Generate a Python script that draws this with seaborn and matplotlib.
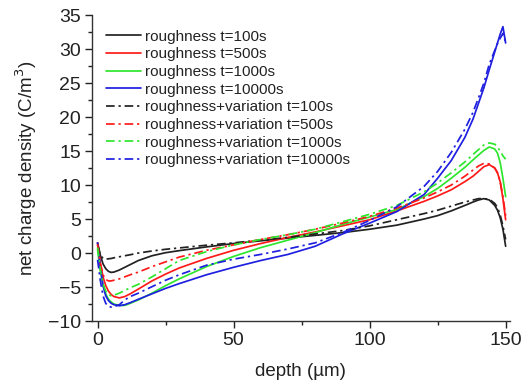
import matplotlib
matplotlib.use("Agg")
import matplotlib.pyplot as plt
import seaborn as sns
import numpy as np
from matplotlib.ticker import MultipleLocator

depth = [0, 1, 2, 3, 4, 5, 6, 8, 10, 12, 15, 20, 25, 30, 40, 50, 60, 70, 80, 90,
         100, 110, 120, 125, 130, 135, 138, 140, 142, 144, 146, 147, 148, 149, 150]

r_100 = [1.5, -0.3, -1.6, -2.3, -2.7, -2.85, -2.8, -2.5, -2.1, -1.7, -1.1, -0.4, 0.05, 0.35, 0.9, 1.4, 1.8, 2.2, 2.6, 3.0,
         3.5, 4.1, 5.0, 5.5, 6.2, 7.0, 7.5, 7.8, 8.0, 7.8, 7.0, 6.3, 5.2, 3.5, 1.0]
r_500 = [1.5, -1.5, -3.5, -4.8, -5.6, -6.1, -6.4, -6.6, -6.4, -6.0, -5.3, -4.1, -3.1, -2.2, -0.8, 0.4, 1.4, 2.3, 3.1, 4.0,
         4.9, 6.2, 7.6, 8.4, 9.3, 10.5, 11.3, 12.0, 12.7, 13.0, 12.5, 11.8, 10.5, 8.0, 4.9]
r_1000 = [0.5, -2.5, -4.8, -6.0, -6.8, -7.2, -7.5, -7.7, -7.7, -7.4, -6.9, -5.9, -4.8, -3.8, -2.0, -0.5, 0.8, 1.9, 3.0, 4.2,
          5.3, 6.4, 8.3, 9.5, 11.0, 12.6, 13.7, 14.4, 15.1, 15.6, 15.3, 14.7, 13.3, 11.0, 8.3]
r_10000 = [1.5, -2.0, -4.8, -6.3, -7.0, -7.4, -7.6, -7.75, -7.6, -7.3, -6.8, -6.0, -5.2, -4.5, -3.2, -2.1, -1.1, -0.2, 1.0, 2.8,
           4.4, 6.1, 8.6, 11.0, 13.6, 17.0, 19.7, 22.0, 24.3, 27.0, 29.6, 30.9, 32.2, 33.3, 30.9]
rv_100 = [1.2, -0.3, -0.8, -0.9, -0.85, -0.8, -0.7, -0.55, -0.4, -0.25, 0.0, 0.3, 0.55, 0.75, 1.15, 1.5, 1.9, 2.3, 2.8, 3.3,
          4.0, 4.9, 5.8, 6.3, 6.9, 7.5, 7.8, 8.0, 8.0, 7.9, 7.3, 6.7, 5.6, 4.0, 2.0]
rv_500 = [1.3, -1.5, -3.2, -3.9, -4.1, -4.1, -4.0, -3.8, -3.5, -3.2, -2.8, -2.0, -1.3, -0.6, 0.4, 1.2, 2.0, 2.7, 3.5, 4.4,
          5.4, 6.6, 8.1, 9.0, 10.0, 11.3, 12.2, 12.8, 13.2, 13.1, 12.5, 11.8, 10.5, 8.3, 5.5]
rv_1000 = [0.8, -2.5, -4.5, -5.6, -6.1, -6.3, -6.2, -5.9, -5.5, -5.1, -4.6, -3.5, -2.3, -1.1, 0.2, 1.2, 2.0, 2.7, 3.5, 4.6,
           5.7, 7.0, 9.0, 10.3, 11.8, 13.4, 14.5, 15.2, 15.9, 16.2, 16.0, 15.6, 15.0, 14.3, 13.8]
rv_10000 = [-1.0, -4.0, -6.3, -7.4, -7.85, -7.95, -7.9, -7.6, -6.9, -6.4, -5.9, -4.95, -4.0, -3.2, -1.8, -0.9, -0.2, 0.6, 1.5, 3.0,
            4.8, 6.8, 9.8, 12.0, 14.8, 18.2, 20.7, 22.8, 25.0, 27.8, 29.8, 30.8, 31.6, 32.3, 31.0]

labels = ["roughness t=100s", "roughness t=500s", "roughness t=1000s", "roughness t=10000s",
          "roughness+variation t=100s", "roughness+variation t=500s",
          "roughness+variation t=1000s", "roughness+variation t=10000s"]
series = [r_100, r_500, r_1000, r_10000, rv_100, rv_500, rv_1000, rv_10000]
colors = ["#222222", "#ff1a1a", "#2ee62e", "#1f1fe0"] * 2

sns.set_style("ticks")
plt.rcParams['font.family'] = ['Liberation Sans', 'DejaVu Sans']

fig = plt.figure(figsize=(5.22, 3.87), dpi=100)
ax = fig.add_axes([0.176, 0.1705, 0.801, 0.7905])

for i, (lab, ys) in enumerate(zip(labels, series)):
    ls = "-" if i < 4 else (0, (5, 2.2, 1.3, 2.2))
    sns.lineplot(x=depth, y=ys, ax=ax, color=colors[i], linestyle=ls,
                 linewidth=1.25, label=lab)

ax.set_xlim(-2.1, 151.6)
ax.set_ylim(-10, 35)
ax.xaxis.set_major_locator(MultipleLocator(50))
ax.xaxis.set_minor_locator(MultipleLocator(25))
ax.yaxis.set_major_locator(MultipleLocator(5))
ax.yaxis.set_minor_locator(MultipleLocator(2.5))
ax.tick_params(which='major', direction='out', length=5, width=1, labelsize=14, colors='#222222', pad=3)
ax.tick_params(which='minor', direction='out', length=3, width=1, colors='#222222')
for s in ['top', 'right']:
    ax.spines[s].set_visible(False)
for s in ['left', 'bottom']:
    ax.spines[s].set_color('#333333')
    ax.spines[s].set_linewidth(1.0)

ax.set_xlabel("depth (µm)", fontsize=13.5, color='#222222', labelpad=10)
ax.set_ylabel("net charge density (C/m$^3$)", fontsize=13.5, color='#222222', labelpad=6)

leg = ax.legend(loc='upper left', bbox_to_anchor=(0.02, 0.972), frameon=False,
                fontsize=11, handlelength=2.3, handletextpad=0.25,
                labelspacing=0.24, borderaxespad=0)
for t in leg.get_texts():
    t.set_color('#222222')

fig.savefig("out.png", dpi=100)
